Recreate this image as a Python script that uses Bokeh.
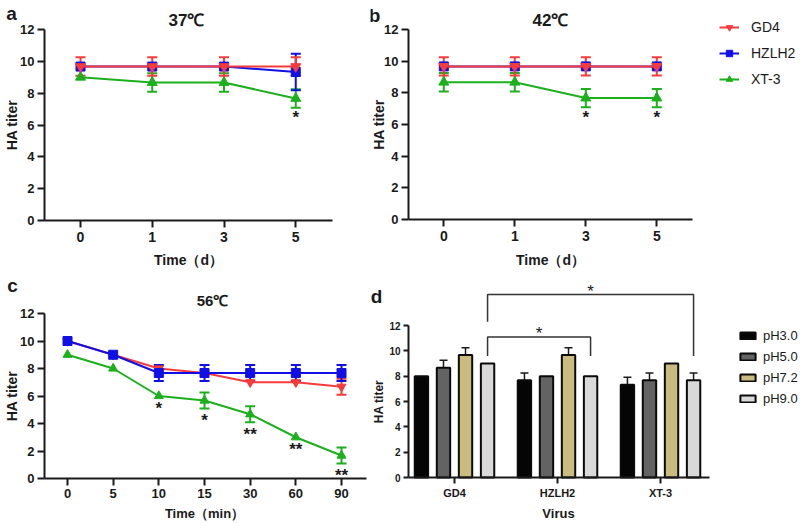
import math
from bokeh.plotting import figure
from bokeh.models import (ColumnDataSource, Whisker, TeeHead, Legend, LegendItem,
                          Range1d, FixedTicker)
from bokeh.layouts import column, row
from bokeh.core.properties import value
from bokeh.embed import file_html
from bokeh.resources import INLINE

FONT = "Liberation Sans"
INK = "#1a1a1a"
RED, BLUE, GREEN = "#f53b3b", "#1010e6", "#1cb01c"

# ---------------- data ----------------
y_ticks = [0, 2, 4, 6, 8, 10, 12]

days = ["0", "1", "3", "5"]
a_gd4 = [9.67, 9.67, 9.67, 9.67]
a_gd4_sd = [0.58, 0.58, 0.58, 0.58]
a_hzlh2 = [9.67, 9.67, 9.67, 9.33]
a_hzlh2_sd = [0, 0, 0, 1.15]
a_xt3 = [9.0, 8.67, 8.67, 7.67]
a_xt3_sd = [0, 0.58, 0.58, 0.58]
a_sig = ["", "", "", "*"]

b_gd4 = [9.67, 9.67, 9.67, 9.67]
b_gd4_sd = [0.58, 0.58, 0.58, 0.58]
b_hzlh2 = [9.67, 9.67, 9.67, 9.67]
b_hzlh2_sd = [0, 0, 0, 0]
b_xt3 = [8.67, 8.67, 7.67, 7.67]
b_xt3_sd = [0.58, 0.58, 0.58, 0.58]
b_sig = ["", "", "*", "*"]

minutes = ["0", "5", "10", "15", "30", "60", "90"]
c_gd4 = [10, 9, 8, 7.67, 7, 7, 6.67]
c_gd4_sd = [0, 0, 0, 0, 0, 0, 0.58]
c_hzlh2 = [10, 9, 7.67, 7.67, 7.67, 7.67, 7.67]
c_hzlh2_sd = [0, 0, 0.58, 0.58, 0.58, 0.58, 0.58]
c_xt3 = [9, 8, 6, 5.67, 4.67, 3, 1.67]
c_xt3_sd = [0, 0, 0, 0.58, 0.58, 0, 0.58]
c_sig = ["", "", "*", "*", "**", "**", "**"]

viruses = ["GD4", "HZLH2", "XT-3"]
ph_levels = ["pH3.0", "pH5.0", "pH7.2", "pH9.0"]
d_ph30 = [8.0, 7.67, 7.33]
d_ph30_sd = [0, 0.58, 0.58]
d_ph50 = [8.67, 8.0, 7.67]
d_ph50_sd = [0.58, 0, 0.58]
d_ph72 = [9.67, 9.67, 9.0]
d_ph72_sd = [0.58, 0.58, 0]
d_ph90 = [9.0, 8.0, 7.67]
d_ph90_sd = [0, 0, 0.58]
ph_colors = ["#050505", "#636363", "#c9bc7e", "#d9d9d9"]

# significance brackets between pH9.0 bars
sig_from = ["GD4", "GD4"]
sig_to = ["HZLH2", "XT-3"]
sig_level = [11.1, 14.45]
sig_left_end = [9.6, 12.3]
sig_right_end = [9.6, 9.6]
sig_text = ["*", "*"]


# ---------------- helpers ----------------
class Panel:
    """Maps page pixels to data units for one figure whose frame fills it."""
    def __init__(self, ox, oy, w, h, px0, ux, py0, uy):
        self.ox, self.oy, self.w, self.h = ox, oy, w, h
        self.px0, self.ux, self.py0, self.uy = px0, ux, py0, uy

    def x(self, px):
        return (px - self.px0) / self.ux

    def y(self, py):
        return (self.py0 - py) / self.uy

    def fig(self):
        p = figure(width=self.w, height=self.h,
                   x_range=Range1d(self.x(self.ox), self.x(self.ox + self.w)),
                   y_range=Range1d(self.y(self.oy + self.h), self.y(self.oy)),
                   output_backend="svg", toolbar_location=None,
                   min_border=0, min_border_left=0, min_border_right=0,
                   min_border_top=0, min_border_bottom=0)
        p.xgrid.visible = False
        p.ygrid.visible = False
        p.outline_line_color = None
        return p


def style_axes(p, P, ax_left_px, ax_right_px, xlabels, xfs, yfs, xstand, ystand, xout, yout):
    for ax in list(p.xaxis) + list(p.yaxis):
        ax.axis_line_width = 2
        ax.axis_line_color = INK
        ax.major_tick_line_width = 2
        ax.major_tick_line_color = INK
        ax.major_tick_in = 0
        ax.minor_tick_line_color = None
        ax.major_label_text_font = FONT
        ax.major_label_text_font_style = "bold"
        ax.major_label_text_color = INK
    p.xaxis.fixed_location = 0
    p.yaxis.fixed_location = P.x(ax_left_px)
    p.xaxis.bounds = (P.x(ax_left_px), P.x(ax_right_px))
    p.yaxis.bounds = (0, 12)
    p.xaxis.ticker = FixedTicker(ticks=list(range(len(xlabels))))
    p.xaxis.major_label_overrides = {i: t for i, t in enumerate(xlabels)}
    p.yaxis.ticker = FixedTicker(ticks=y_ticks)
    p.xaxis.major_label_text_font_size = xfs
    p.yaxis.major_label_text_font_size = yfs
    p.xaxis.major_label_standoff = xstand
    p.yaxis.major_label_standoff = ystand
    p.xaxis.major_tick_out = xout
    p.yaxis.major_tick_out = yout


def txt(p, P, px, py, text, size, bold=True, angle=0.0):
    p.text(x=[P.x(px)], y=[P.y(py)], text=[text], angle=angle,
           text_align="center", text_baseline="middle",
           text_font=value(FONT), text_font_size=size,
           text_font_style="bold" if bold else "normal", text_color=INK)


def add_series(p, y, sd, color, marker, size):
    x = list(range(len(y)))
    ln = p.line(x, y, line_color=color, line_width=2)
    bx = [xi for xi, s in zip(x, sd) if s > 0]
    if bx:
        src = ColumnDataSource(dict(base=bx,
                                    upper=[yi + s for yi, s in zip(y, sd) if s > 0],
                                    lower=[yi - s for yi, s in zip(y, sd) if s > 0]))
        p.add_layout(Whisker(base="base", upper="upper", lower="lower", source=src,
                             line_color=color, line_width=2,
                             upper_head=TeeHead(size=10, line_color=color, line_width=2),
                             lower_head=TeeHead(size=10, line_color=color, line_width=2)))
    sc = p.scatter(x, y, marker=marker, size=size, fill_color=color, line_color=color)
    return ln, sc


def add_sig(p, y, sd, sig, yoff):
    xs = [i for i, t in enumerate(sig) if t]
    ys = [yi - s for yi, s, t in zip(y, sd, sig) if t]
    ts = [t for t in sig if t]
    p.text(x=xs, y=ys, text=ts, text_align="center", text_baseline="middle",
           y_offset=yoff, text_font=value(FONT), text_font_size="17px",
           text_font_style="bold", text_color=INK)


# ---------------- panel a ----------------
PA = Panel(0, 0, 370, 268, 80, 71.75, 220, 191 / 12)
fa = PA.fig()
style_axes(fa, PA, 44, 332, days, "14px", "13px", 4, 3, 7, 7)
add_series(fa, a_xt3, a_xt3_sd, GREEN, "triangle", 10)
add_series(fa, a_hzlh2, a_hzlh2_sd, BLUE, "square", 9)
add_series(fa, a_gd4, a_gd4_sd, RED, "inverted_triangle", 10)
add_sig(fa, a_xt3, a_xt3_sd, a_sig, 10)
txt(fa, PA, 11, 13, "a", "19px")
txt(fa, PA, 186, 20, "37\u2103", "17px")
txt(fa, PA, 11, 124.5, "HA titer", "14px", angle=math.pi / 2)
txt(fa, PA, 188, 259, "Time\uff08d\uff09", "14px")

# ---------------- panel b ----------------
PB = Panel(370, 0, 430, 268, 443.3, 71, 219, 190 / 12)
fb = PB.fig()
style_axes(fb, PB, 408, 692, days, "14px", "13px", 4, 3, 7, 7)
rb = {}
rb["XT-3"] = add_series(fb, b_xt3, b_xt3_sd, GREEN, "triangle", 10)
rb["HZLH2"] = add_series(fb, b_hzlh2, b_hzlh2_sd, BLUE, "square", 9)
rb["GD4"] = add_series(fb, b_gd4, b_gd4_sd, RED, "inverted_triangle", 10)
add_sig(fb, b_xt3, b_xt3_sd, b_sig, 10)
txt(fb, PB, 374, 15, "b", "19px")
txt(fb, PB, 550, 20, "42\u2103", "17px")
txt(fb, PB, 378, 124, "HA titer", "14px", angle=math.pi / 2)
txt(fb, PB, 550, 259, "Time\uff08d\uff09", "14px")
leg_b = Legend(items=[LegendItem(label=n, renderers=list(rb[n])) for n in ["GD4", "HZLH2", "XT-3"]],
               location=(719 - 370, 268 - 87), padding=0, margin=0, spacing=10,
               glyph_width=20, glyph_height=16, label_height=16, label_standoff=12,
               label_text_font=FONT, label_text_font_size="14px", label_text_color=INK,
               border_line_color=None, background_fill_alpha=0)
fb.add_layout(leg_b)

# ---------------- panel c ----------------
PC = Panel(0, 268, 370, 255, 67, 274 / 6, 478, 165 / 12)
fc = PC.fig()
style_axes(fc, PC, 44, 366, minutes, "13px", "13px", 3, 3, 7, 7)
add_series(fc, c_xt3, c_xt3_sd, GREEN, "triangle", 9)
add_series(fc, c_gd4, c_gd4_sd, RED, "inverted_triangle", 9)
add_series(fc, c_hzlh2, c_hzlh2_sd, BLUE, "square", 9)
add_sig(fc, c_xt3, c_xt3_sd, c_sig, 12)
txt(fc, PC, 12, 285, "c", "19px")
txt(fc, PC, 212, 300, "56\u2103", "15px")
txt(fc, PC, 11, 395.5, "HA titer", "14px", angle=math.pi / 2)
txt(fc, PC, 204, 513, "Time\uff08min\uff09", "13px")

# ---------------- panel d ----------------
PD = Panel(370, 268, 430, 255, 454, 103, 477, 152 / 12)
fd = PD.fig()
style_axes(fd, PD, 408, 709, viruses, "11px", "10px", 3, 3, 6, 5)

bar_w = 0.13
step = 0.214
offsets = [(k - (len(ph_levels) - 1) / 2) * step for k in range(len(ph_levels))]
d_vals = [d_ph30, d_ph50, d_ph72, d_ph90]
d_sds = [d_ph30_sd, d_ph50_sd, d_ph72_sd, d_ph90_sd]
bar_rends = []
for k, (vals, sds, col) in enumerate(zip(d_vals, d_sds, ph_colors)):
    xs = [i + offsets[k] for i in range(len(viruses))]
    bx = [x for x, s in zip(xs, sds) if s > 0]
    if bx:
        src = ColumnDataSource(dict(base=bx,
                                    lower=[v for v, s in zip(vals, sds) if s > 0],
                                    upper=[v + s for v, s in zip(vals, sds) if s > 0]))
        fd.add_layout(Whisker(base="base", upper="upper", lower="lower", source=src,
                              line_color=INK, line_width=1.5, lower_head=None,
                              upper_head=TeeHead(size=8, line_color=INK, line_width=1.5)))
    r = fd.vbar(x=xs, top=vals, bottom=0, width=bar_w, fill_color=col,
                line_color="#0a0a0a", line_width=2)
    bar_rends.append(r)

k9 = len(ph_levels) - 1
bxs, bys, sx, sy = [], [], [], []
for f, t, lvl, le, re in zip(sig_from, sig_to, sig_level, sig_left_end, sig_right_end):
    x0 = viruses.index(f) + offsets[k9]
    x1 = viruses.index(t) + offsets[k9]
    bxs.append([x0, x0, x1, x1])
    bys.append([le, lvl, lvl, re])
    sx.append((x0 + x1) / 2)
    sy.append(lvl)
fd.multi_line(bxs, bys, line_color="#333333", line_width=1.5)
fd.text(x=sx, y=sy, text=sig_text, text_align="center", text_baseline="middle",
        y_offset=-3, text_font=value(FONT), text_font_size="17px", text_color=INK)

leg_d = Legend(items=[LegendItem(label=n, renderers=[r]) for n, r in zip(ph_levels, bar_rends)],
               location=(738 - 370, 255 - 138), padding=0, margin=0, spacing=5,
               glyph_width=19, glyph_height=9, label_height=16, label_standoff=6,
               label_text_font=FONT, label_text_font_size="13px", label_text_color=INK,
               border_line_color=None, background_fill_alpha=0)
fd.add_layout(leg_d)
txt(fd, PD, 376, 296, "d", "19px")
txt(fd, PD, 378, 401, "HA titer", "12px", angle=math.pi / 2)
txt(fd, PD, 558, 513, "Virus", "13px")

layout = column(row(fa, fb), row(fc, fd))
open("out.html", "w").write(file_html(layout, INLINE))
